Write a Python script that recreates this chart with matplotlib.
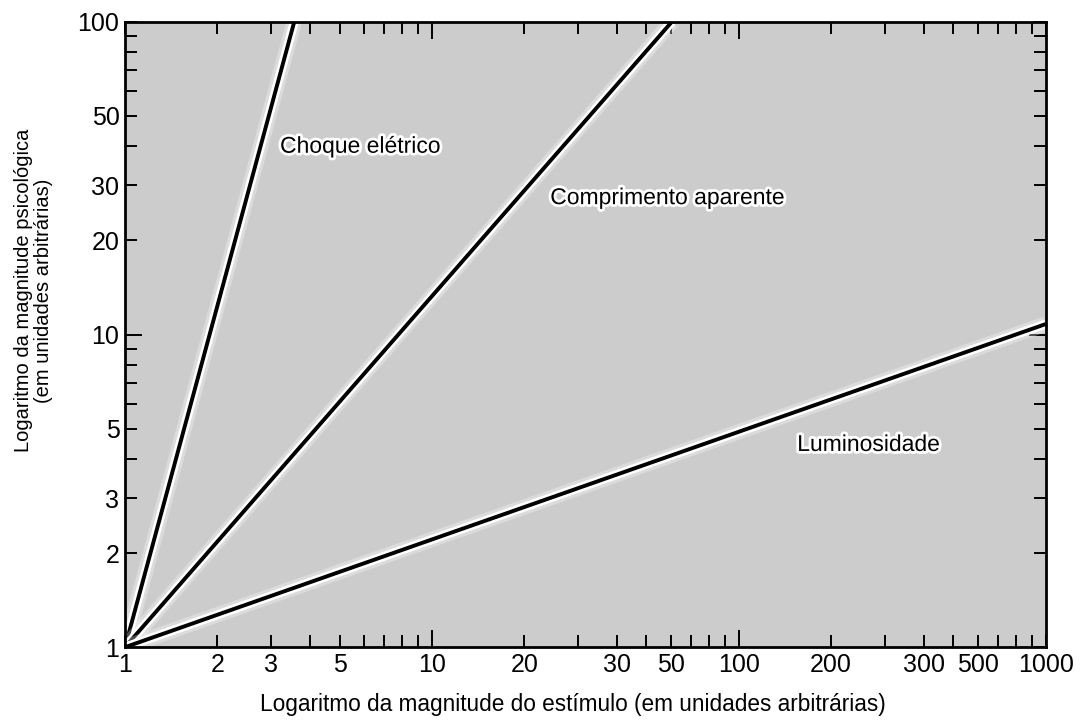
import matplotlib
matplotlib.use('Agg')
import matplotlib.pyplot as plt
import matplotlib.patheffects as pe
from matplotlib.ticker import FixedLocator, NullFormatter

plt.rcParams['font.family'] = ['Liberation Sans', 'DejaVu Sans']

# dados: cada reta parte de (1, 1)
choque_x = [1, 3.56]
choque_y = [1, 100]
compr_x = [1, 60.5]
compr_y = [1, 100]
lum_x = [1, 1000]
lum_y = [1, 10.8]

# rótulos do eixo x, como aparecem na figura original
xtick_pos = [1, 2, 3, 5, 10, 20, 40, 60, 100, 200, 400, 600, 1000]
xtick_lab = ['1', '2', '3', '5', '10', '20', '30', '50', '100', '200', '300', '500', '1000']
ytick_pos = [1, 2, 3, 5, 10, 20, 30, 50, 100]
ytick_lab = ['1', '2', '3', '5', '10', '20', '30', '50', '100']

fig = plt.figure(figsize=(10.87, 7.28), dpi=100)
ax = fig.add_axes([0.115, 0.111, 0.847, 0.859])
ax.set_facecolor('#cccccc')
ax.set_xscale('log')
ax.set_yscale('log')
ax.set_xlim(1, 1000)
ax.set_ylim(1, 100)

glow = [pe.Stroke(linewidth=11, foreground='white', alpha=0.3),
        pe.Stroke(linewidth=6.5, foreground='white'),
        pe.Normal()]
for xs, ys in [(choque_x, choque_y), (compr_x, compr_y), (lum_x, lum_y)]:
    ax.plot(xs, ys, color='black', lw=2.8, solid_capstyle='butt', path_effects=glow)

tglow = [pe.withStroke(linewidth=4, foreground='white')]
ax.text(3.2, 40, 'Choque elétrico', fontsize=16.5, va='center', ha='left', path_effects=tglow)
ax.text(24.3, 27.4, 'Comprimento aparente', fontsize=16.5, va='center', ha='left', path_effects=tglow)
ax.text(155, 4.45, 'Luminosidade', fontsize=16.5, va='center', ha='left', path_effects=tglow)

# ticks
all_minor = [m * 10 ** d for d in range(3) for m in range(1, 10)] + [1000]
ax.xaxis.set_major_locator(FixedLocator(xtick_pos))
ax.set_xticklabels(xtick_lab)
ax.xaxis.set_minor_locator(FixedLocator([v for v in all_minor if v not in xtick_pos]))
ax.xaxis.set_minor_formatter(NullFormatter())
ax.yaxis.set_major_locator(FixedLocator(ytick_pos))
ax.set_yticklabels(ytick_lab)
ax.yaxis.set_minor_locator(FixedLocator([v for v in all_minor if v <= 100 and v not in ytick_pos]))
ax.yaxis.set_minor_formatter(NullFormatter())

ax.tick_params(which='both', direction='in', top=True, right=True, length=8.5, width=1.4,
               labelsize=18, pad=4)
# ticks mais longos nas décadas
for t in ax.xaxis.get_major_ticks():
    if t.get_loc() in (10, 100):
        t.tick1line.set_markersize(12)
        t.tick2line.set_markersize(12)
for t in ax.yaxis.get_major_ticks():
    if t.get_loc() == 10:
        t.tick1line.set_markersize(12)
        t.tick2line.set_markersize(12)

for s in ax.spines.values():
    s.set_linewidth(2)

ax.set_xlabel('Logaritmo da magnitude do estímulo (em unidades arbitrárias)', fontsize=16.3)
ax.xaxis.set_label_coords(0.486, -0.074)
ax.set_ylabel('Logaritmo da magnitude psicológica\n(em unidades arbitrárias)', fontsize=14.5,
              linespacing=1.1)
ax.yaxis.set_label_coords(-0.078, 0.57)

fig.savefig('out.png', dpi=100)
